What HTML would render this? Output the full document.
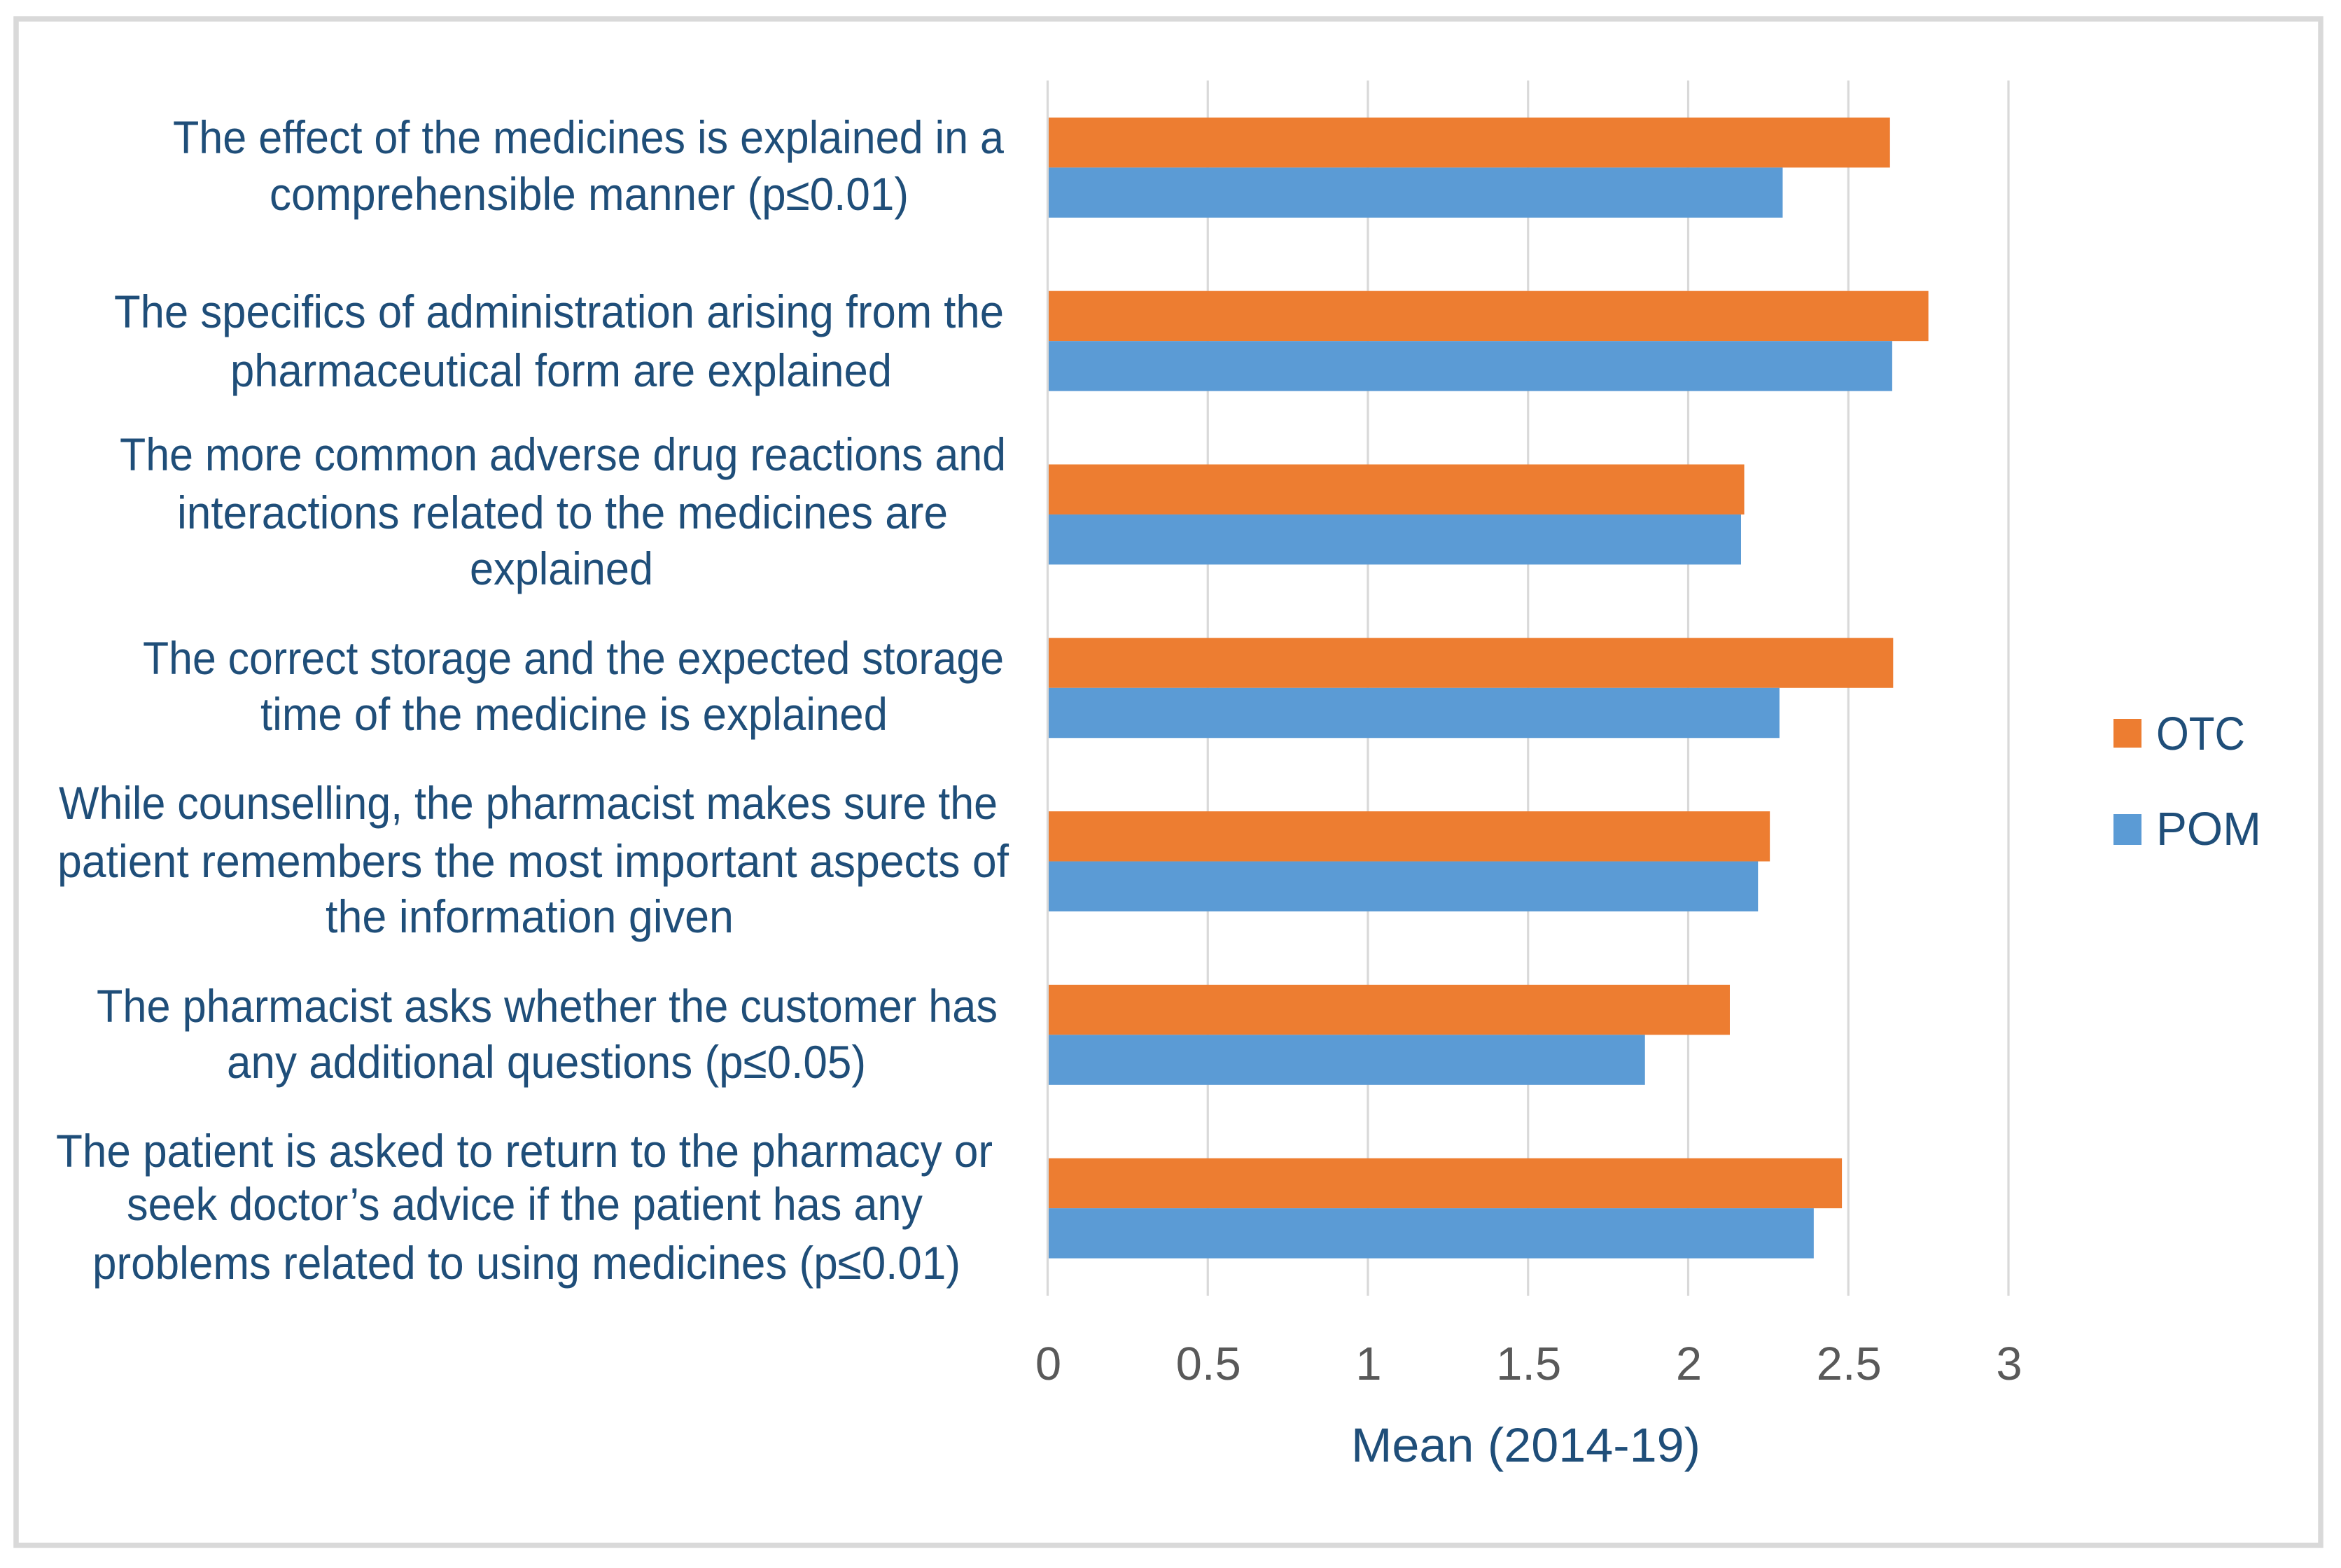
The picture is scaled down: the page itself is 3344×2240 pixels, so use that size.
<!DOCTYPE html>
<html lang="en">
<head>
<meta charset="utf-8">
<title>Mean counselling scores, OTC vs POM (2014-19)</title>
<style>
  html, body { margin: 0; padding: 0; background: #ffffff; }
  svg { display: block; }
  text { font-family: "Liberation Sans", sans-serif; }
  .cat { font-size: 66px; fill: #1f4e79; }
  .tick { font-size: 67px; fill: #595959; text-anchor: middle; }
  .ttl { font-size: 69px; fill: #1f4e79; }
  .leg { font-size: 67px; fill: #1f4e79; }
</style>
</head>
<body>
<svg id="chart" xmlns="http://www.w3.org/2000/svg" width="3344" height="2240" viewBox="0 0 3344 2240">
  <rect x="23" y="27" width="3292" height="2180.5" fill="#ffffff" stroke="#d9d9d9" stroke-width="7.5"/>
  <g id="grid"></g>
  <g id="bars"></g>
  <g id="ticks"></g>

  <g>
    <text class="cat" x="247" y="219" textLength="1187" lengthAdjust="spacingAndGlyphs">The effect of the medicines is explained in a</text>
    <text class="cat" x="385" y="300" textLength="913" lengthAdjust="spacingAndGlyphs">comprehensible manner (p≤0.01)</text>
  </g>
  <g>
    <text class="cat" x="163" y="468" textLength="1271" lengthAdjust="spacingAndGlyphs">The specifics of administration arising from the</text>
    <text class="cat" x="329" y="552" textLength="945" lengthAdjust="spacingAndGlyphs">pharmaceutical form are explained</text>
  </g>
  <g>
    <text class="cat" x="171" y="672" textLength="1266" lengthAdjust="spacingAndGlyphs">The more common adverse drug reactions and</text>
    <text class="cat" x="253" y="755" textLength="1101" lengthAdjust="spacingAndGlyphs">interactions related to the medicines are</text>
    <text class="cat" x="671" y="835" textLength="262" lengthAdjust="spacingAndGlyphs">explained</text>
  </g>
  <g>
    <text class="cat" x="204" y="963" textLength="1230" lengthAdjust="spacingAndGlyphs">The correct storage and the expected storage</text>
    <text class="cat" x="372" y="1043" textLength="896" lengthAdjust="spacingAndGlyphs">time of the medicine is explained</text>
  </g>
  <g>
    <text class="cat" x="84" y="1170" textLength="1341" lengthAdjust="spacingAndGlyphs">While counselling, the pharmacist makes sure the</text>
    <text class="cat" x="82" y="1253" textLength="1359" lengthAdjust="spacingAndGlyphs">patient remembers the most important aspects of</text>
    <text class="cat" x="465" y="1332" textLength="583" lengthAdjust="spacingAndGlyphs">the information given</text>
  </g>
  <g>
    <text class="cat" x="138" y="1460" textLength="1287" lengthAdjust="spacingAndGlyphs">The pharmacist asks whether the customer has</text>
    <text class="cat" x="324" y="1540" textLength="913" lengthAdjust="spacingAndGlyphs">any additional questions (p≤0.05)</text>
  </g>
  <g>
    <text class="cat" x="80" y="1667" textLength="1338" lengthAdjust="spacingAndGlyphs">The patient is asked to return to the pharmacy or</text>
    <text class="cat" x="181" y="1743" textLength="1137" lengthAdjust="spacingAndGlyphs">seek doctor’s advice if the patient has any</text>
    <text class="cat" x="132" y="1827" textLength="1240" lengthAdjust="spacingAndGlyphs">problems related to using medicines (p≤0.01)</text>
  </g>

  <text class="ttl" x="1930" y="2088" textLength="499" lengthAdjust="spacingAndGlyphs">Mean (2014-19)</text>

  <g>
    <g>
      <rect x="3019" y="1027" width="40" height="41" fill="#ed7d31"/>
      <text class="leg" x="3080" y="1071" textLength="127" lengthAdjust="spacingAndGlyphs">OTC</text>
    </g>
    <g>
      <rect x="3019" y="1163" width="40" height="44" fill="#5b9bd5"/>
      <text class="leg" x="3080" y="1207" textLength="150" lengthAdjust="spacingAndGlyphs">POM</text>
    </g>
  </g>
</svg>

<script>
const categories = ["effect", "administration", "adverse-reactions", "storage", "remembers", "questions", "return"];
const otcValues = [2.63, 2.75, 2.175, 2.64, 2.255, 2.13, 2.48];
const pomValues = [2.295, 2.637, 2.165, 2.285, 2.218, 1.865, 2.392];
const tickValues = [0, 0.5, 1, 1.5, 2, 2.5, 3];

const SVG_NS = "http://www.w3.org/2000/svg";
const plotTop = 115, plotBottom = 1851;
const bandTop = 115.5, bandBottom = 1850;
const xZero = 1496.5, xThree = 2869, xMaxValue = 3;
const barHeight = 71.5;

function xScale(v) { return xZero + (v / xMaxValue) * (xThree - xZero); }
function bandCenter(i) {
  const band = (bandBottom - bandTop) / categories.length;
  return bandTop + band * (i + 0.5);
}
function make(tag, attrs, parent) {
  const el = document.createElementNS(SVG_NS, tag);
  for (const k in attrs) el.setAttribute(k, attrs[k]);
  parent.appendChild(el);
  return el;
}

const gridG = document.getElementById("grid");
const barsG = document.getElementById("bars");
const ticksG = document.getElementById("ticks");

tickValues.forEach(function (t) {
  const line = make("line", { x1: xScale(t), x2: xScale(t), y1: plotTop, y2: plotBottom, stroke: "#d9d9d9", "stroke-width": 3.2 }, gridG);
  
  
  const label = make("text", { x: xScale(t) + 1, y: 1971, class: "tick" }, ticksG);
  
  
  label.textContent = String(t);
});

categories.forEach(function (c, i) {
  const mid = bandCenter(i);
  const x0 = xScale(0) + 1.5;
  const otcBar = make("rect", { x: x0, y: mid - barHeight, width: xScale(otcValues[i]) - x0, height: barHeight, fill: "#ed7d31" }, barsG);
  
  
  const pomBar = make("rect", { x: x0, y: mid, width: xScale(pomValues[i]) - x0, height: barHeight, fill: "#5b9bd5" }, barsG);
  
  
});
</script>
</body>
</html>
